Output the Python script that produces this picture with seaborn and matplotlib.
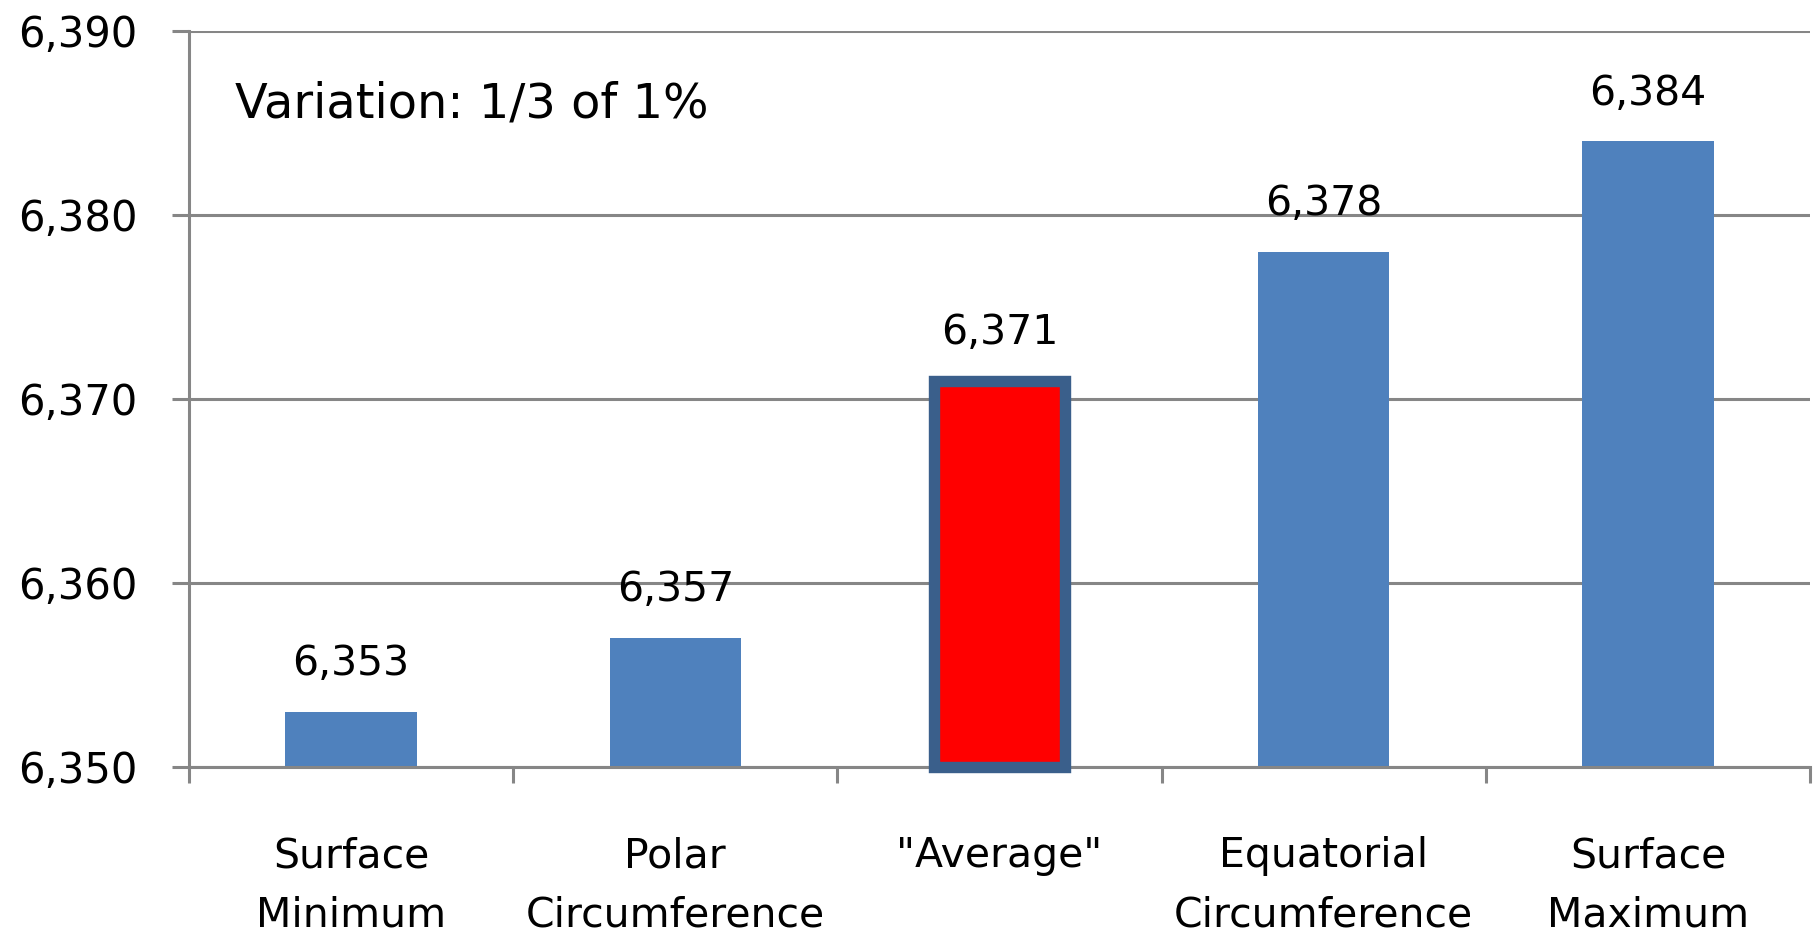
import matplotlib
matplotlib.use("Agg")
import matplotlib.pyplot as plt
import seaborn as sns
import pandas as pd
from matplotlib.ticker import FixedLocator

categories = ["Surface\nMinimum", "Polar\nCircumference", "\"Average\"",
              "Equatorial\nCircumference", "Surface\nMaximum"]
values = [6353, 6357, 6371, 6378, 6384]
value_labels = ["6,353", "6,357", "6,371", "6,378", "6,384"]
yticks = [6350, 6360, 6370, 6380, 6390]
ytick_labels = ["6,350", "6,360", "6,370", "6,380", "6,390"]
annotation = "Variation: 1/3 of 1%"
highlight = "\"Average\""

BLUE = "#4F81BD"
RED = "#FF0000"
EDGE = "#3A5F8B"
GRAY = "#868686"

sns.set_theme(style="white")
plt.rcParams["font.family"] = ["DejaVu Sans"]

df = pd.DataFrame({"category": categories, "value": values})
palette = {c: (RED if c == highlight else BLUE) for c in categories}

fig = plt.figure(figsize=(18.14, 9.36), dpi=100)
ax = fig.add_axes([189 / 1814, (936 - 767) / 936, (1810 - 189) / 1814, (767 - 31) / 936])

sns.barplot(data=df, x="category", y="value", hue="category", palette=palette,
            width=0.405, legend=False, ax=ax, saturation=1)

ax.set_ylim(yticks[0], yticks[-1])
ax.set_xlim(-0.5, len(categories) - 0.5)

for p in ax.patches:
    p.set_linewidth(0)

# restyle highlighted bar with a thick dark-blue border
for i, c in enumerate(categories):
    if c != highlight:
        continue
    for p in ax.patches:
        cx = p.get_x() + p.get_width() / 2
        if abs(cx - i) < 0.01:
            p.set_y(yticks[0])
            p.set_height(values[i] - yticks[0])
            p.set_edgecolor(EDGE)
            p.set_linewidth(8.2)
            p.set_clip_on(False)
            p.set_zorder(3)

ax.set_axisbelow(True)
ax.yaxis.grid(True, color=GRAY, linewidth=2.2)
ax.xaxis.grid(False)

ax.set_yticks(yticks)
ax.set_yticklabels(ytick_labels)
ax.tick_params(axis="y", direction="out", length=12, width=2.2, color=GRAY,
               pad=25, labelsize=30, labelcolor="black", left=True)

ax.set_xticks(range(len(categories)))
ax.set_xticklabels(categories, fontsize=29.5, color="black", linespacing=1.6)
ax.xaxis.set_minor_locator(FixedLocator([i - 0.5 for i in range(len(categories) + 1)]))
ax.tick_params(axis="x", which="major", length=0, pad=50)
ax.tick_params(axis="x", which="minor", direction="out", length=11.5, width=2.2,
               color=GRAY, bottom=True)

for side in ["top", "right"]:
    ax.spines[side].set_visible(False)
for side in ["left", "bottom"]:
    ax.spines[side].set_visible(True)
    ax.spines[side].set_color(GRAY)
    ax.spines[side].set_linewidth(2.2)

ax.set_xlabel("")
ax.set_ylabel("")

for i, (v, lab) in enumerate(zip(values, value_labels)):
    ax.annotate(lab, xy=(i, v), xytext=(0, 20), textcoords="offset points",
                ha="center", va="bottom", fontsize=29.5, color="black")

ax.text(0.0284, 0.882, annotation, transform=ax.transAxes, fontsize=34.5,
        ha="left", va="baseline", color="black")

fig.savefig("out.png", dpi=100)
